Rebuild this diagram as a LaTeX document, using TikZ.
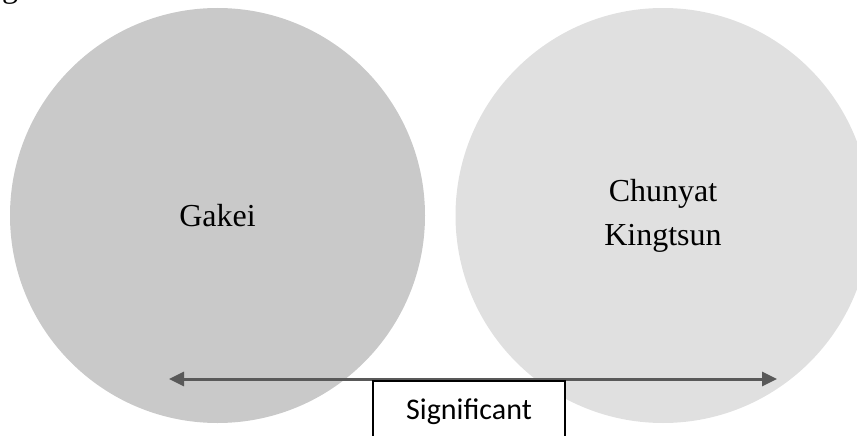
\documentclass[tikz,border=0pt]{standalone}
\usepackage{fontspec}
\setmainfont{Liberation Serif}
\newfontfamily\labelsans{Carlito}
\usetikzlibrary{arrows.meta}
\definecolor{gakeifill}{HTML}{C9C9C9}
\definecolor{chunyatfill}{HTML}{E0E0E0}
\definecolor{arrowgray}{HTML}{595959}
\begin{document}
\begin{tikzpicture}[x=1pt,y=-1pt,
  bubble/.style={circle, draw=none, minimum size=415pt, inner sep=0pt,
    align=center, font=\fontsize{32}{44}\selectfont},
  spanline/.style={draw=arrowgray, line width=3pt,
    {Triangle[length=15pt,width=14pt]}-{Triangle[length=15pt,width=14pt]}},
  tagbox/.style={draw=black, fill=white, line width=1.5pt,
    minimum width=192pt, minimum height=62pt, inner sep=0pt,
    font=\labelsans\fontsize{30}{36}\selectfont}
]
\useasboundingbox (0,0) rectangle (857,436);

% stray descender of a heading line above the figure
\node[font=\fontsize{32}{37}\selectfont, anchor=base, inner sep=0pt] (stray) at (10,-2) {g};

% the two groups
\node[bubble, fill=gakeifill] (gakei) at (217.5,215.5) {Gakei};
\node[bubble, fill=chunyatfill] (chunyat) at (663,215.5) {Chunyat\\Kingtsun};

% double-headed comparison arrow
\coordinate (leftend) at (169,379);
\coordinate (rightend) at (777,379);
\draw[spanline] (leftend) -- (rightend);

% label box hanging under the arrow
\node[tagbox, anchor=north west] (sig) at (372.3,380) {Significant};
\end{tikzpicture}
\end{document}
